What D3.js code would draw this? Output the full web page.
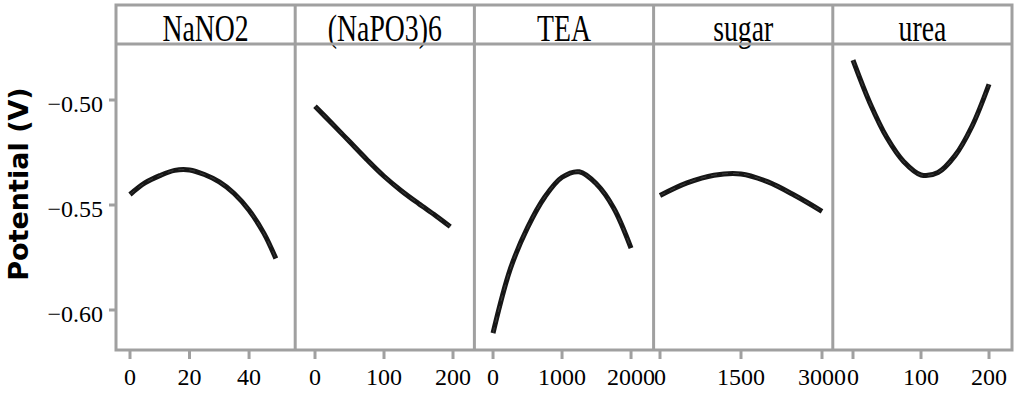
<!DOCTYPE html>
<html>
<head>
<meta charset="utf-8">
<script src="https://cdn.jsdelivr.net/npm/d3@7"></script>
<style>
  body { margin: 0; background: #fff; }
  svg { display: block; }
</style>
</head>
<body>
<div id="chart"></div>
<script>
// Panel names
const panels = ["NaNO2", "(NaPO3)6", "TEA", "sugar", "urea"];

// Curve values, one pair of arrays per panel
const nano2X = [0, 5, 10, 15, 20, 25, 30, 35, 40, 45, 49];
const nano2Y = [-0.545, -0.5395, -0.536, -0.5335, -0.5333, -0.5355, -0.539, -0.5445, -0.5525, -0.5635, -0.5755];

const napo3X = [0, 25, 50, 75, 100, 125, 150, 175, 196];
const napo3Y = [-0.503, -0.5113, -0.5198, -0.5283, -0.5363, -0.5432, -0.5493, -0.5551, -0.5603];

const teaX = [0, 250, 500, 750, 1000, 1250, 1500, 1750, 2000];
const teaY = [-0.611, -0.5805, -0.5608, -0.5462, -0.5368, -0.5342, -0.540, -0.5515, -0.5705];

const sugarX = [0, 500, 1000, 1500, 2000, 2500, 3000];
const sugarY = [-0.5455, -0.5395, -0.5358, -0.5352, -0.539, -0.5455, -0.553];

const ureaX = [0, 25, 50, 75, 100, 125, 150, 175, 200];
const ureaY = [-0.481, -0.5015, -0.518, -0.5295, -0.5357, -0.5345, -0.5265, -0.5125, -0.4925];

const seriesX = [nano2X, napo3X, teaX, sugarX, ureaX];
const seriesY = [nano2Y, napo3Y, teaY, sugarY, ureaY];

// Axis ranges and ticks
const xDomains = [[-4.7, 55.5], [-28.7, 231], [-270, 2327], [-118.5, 3200], [-29.7, 233.8]];
const xTicks = [[0, 20, 40], [0, 100, 200], [0, 1000, 2000], [0, 1500, 3000], [0, 100, 200]];
const yDomain = [-0.61905, -0.47333];
const yTicks = [-0.60, -0.55, -0.50];

const width = 1015, height = 394;
const plotLeft = 116, plotRight = 1012, plotTop = 5, stripBottom = 44, plotBottom = 350;
const panelW = (plotRight - plotLeft) / panels.length;
const gray = "#a0a0a0";
const serif = "'Liberation Serif', 'DejaVu Serif', serif";

const svg = d3.select("#chart").append("svg")
    .attr("width", width)
    .attr("height", height);

const y = d3.scaleLinear().domain(yDomain).range([plotBottom, stripBottom]);

// y axis ticks and labels
const yAxis = svg.append("g");
yAxis.selectAll("line")
    .data(yTicks)
    .join("line")
    .attr("x1", plotLeft - 7).attr("x2", plotLeft)
    .attr("y1", d => y(d)).attr("y2", d => y(d))
    .attr("stroke", gray).attr("stroke-width", 3);
yAxis.selectAll("text")
    .data(yTicks)
    .join("text")
    .attr("x", 103)
    .attr("y", d => y(d) + 12)
    .attr("text-anchor", "end")
    .style("font-family", serif)
    .style("font-size", "24px")
    .text(d => d3.format(".2f")(d));

svg.append("text")
    .attr("transform", `translate(28, 184) rotate(-90)`)
    .attr("text-anchor", "middle")
    .style("font-family", "'DejaVu Sans', sans-serif")
    .style("font-weight", "bold")
    .style("font-size", "27px")
    .text("Potential (V)");

const line = d3.line().curve(d3.curveCatmullRom.alpha(0.5));

panels.forEach((name, i) => {
    const x0 = plotLeft + i * panelW;
    const x = d3.scaleLinear().domain(xDomains[i]).range([x0, x0 + panelW]);
    const g = svg.append("g");

    // strip title
    g.append("text")
        .attr("transform", `translate(${x0 + panelW / 2}, 41) scale(0.73, 1)`)
        .attr("text-anchor", "middle")
        .style("font-family", serif)
        .style("font-size", "38px")
        .text(name);

    // x ticks
    g.selectAll("line.tick")
        .data(xTicks[i])
        .join("line")
        .attr("class", "tick")
        .attr("x1", d => x(d)).attr("x2", d => x(d))
        .attr("y1", plotBottom).attr("y2", plotBottom + 9)
        .attr("stroke", gray).attr("stroke-width", 3);
    g.selectAll("text.tick")
        .data(xTicks[i])
        .join("text")
        .attr("class", "tick")
        .attr("x", d => x(d))
        .attr("y", 385)
        .attr("text-anchor", "middle")
        .style("font-family", serif)
        .style("font-size", "24px")
        .text(d => d);

    // curve
    const pts = seriesX[i].map((v, k) => [x(v), y(seriesY[i][k])]);
    g.append("path")
        .attr("d", line(pts))
        .attr("fill", "none")
        .attr("stroke", "#161616")
        .attr("stroke-width", 5);
    g.append("path")
        .attr("d", line(pts))
        .attr("fill", "none")
        .attr("stroke", "#555")
        .attr("stroke-width", 0.6)
        .attr("stroke-dasharray", "6,5");
});

// frame
const frame = svg.append("g")
    .attr("fill", "none")
    .attr("stroke", gray)
    .attr("stroke-width", 3);
frame.append("rect")
    .attr("x", plotLeft).attr("y", plotTop)
    .attr("width", plotRight - plotLeft).attr("height", plotBottom - plotTop);
frame.append("line")
    .attr("x1", plotLeft).attr("x2", plotRight)
    .attr("y1", stripBottom).attr("y2", stripBottom);
frame.selectAll("line.sep")
    .data(d3.range(1, panels.length))
    .join("line")
    .attr("class", "sep")
    .attr("x1", i => plotLeft + i * panelW).attr("x2", i => plotLeft + i * panelW)
    .attr("y1", plotTop).attr("y2", plotBottom);
</script>
</body>
</html>
